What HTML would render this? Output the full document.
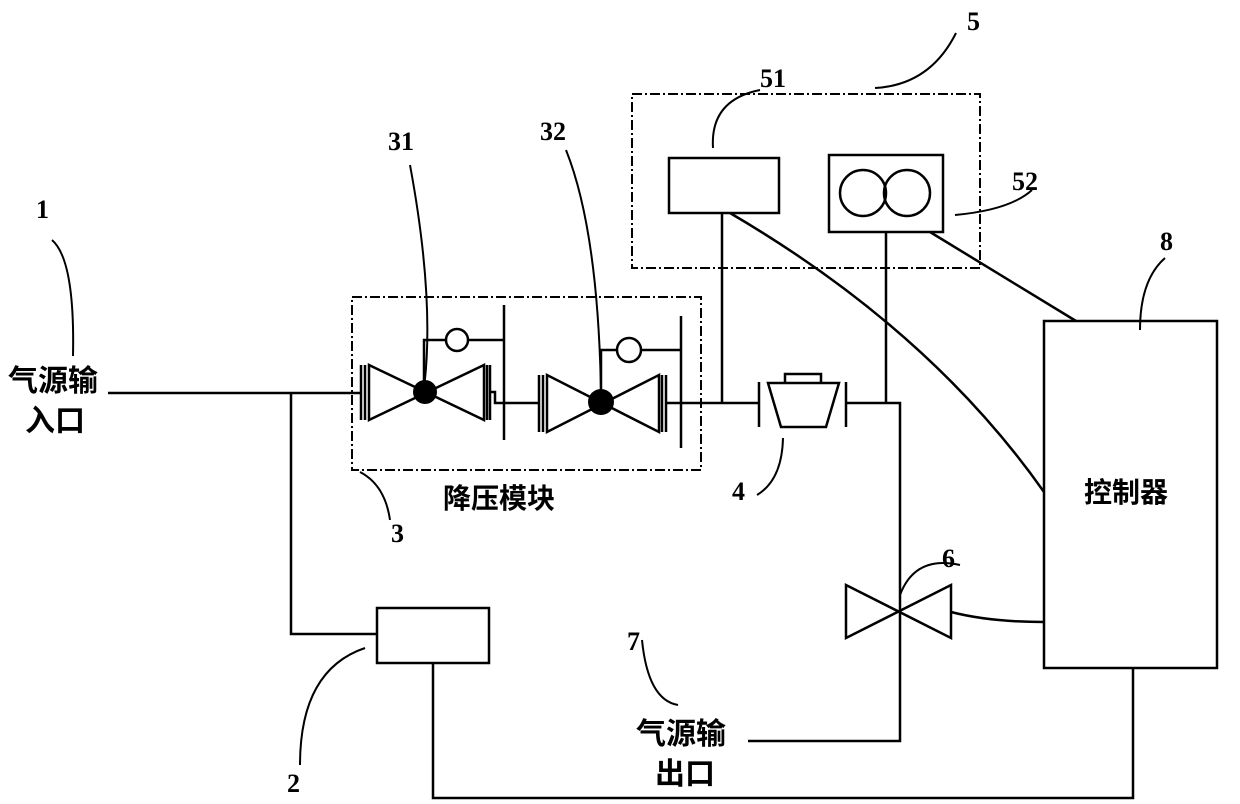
<!DOCTYPE html>
<html><head><meta charset="utf-8"><style>
body{margin:0;background:#fff}
svg{display:block}
text{font-family:"Liberation Serif","Noto Serif CJK SC",serif;font-weight:bold;fill:#000}
.c{font-family:"Liberation Sans","Noto Sans CJK SC",sans-serif;font-weight:bold}
</style></head><body>
<svg width="1240" height="804" viewBox="0 0 1240 804" xmlns="http://www.w3.org/2000/svg">
<g fill="none" stroke="#000" stroke-width="2.5">
<rect x="352" y="297" width="349" height="173" stroke-dasharray="10,3,2,3" stroke-width="2"/>
<rect x="632" y="94" width="348" height="174" stroke-dasharray="10,3,2,3" stroke-width="2"/>
<path d="M108 393 H360"/>
<path d="M291 393 V634 H377"/>
<!-- valve 1 -->
<path d="M361 365 V420 M365 365 V420"/>
<path d="M369 365 L369 420 L484 365 L484 420 Z"/>
<path d="M487 365 V420 M490 365 V420"/>
<path d="M490 392 H495 V403 H540"/>
<path d="M504 305 V440"/>
<path d="M424 392 V340 H446 M468 340 H504"/>
<circle cx="457" cy="340" r="11"/>
<!-- valve 2 -->
<path d="M539 375 V432 M543 375 V432"/>
<path d="M547 375 L547 432 L659 375 L659 432 Z"/>
<path d="M662 375 V432 M666 375 V432"/>
<path d="M681 316 V448"/>
<path d="M601 402 V350 H617 M641 350 H681"/>
<circle cx="629" cy="350" r="12"/>
<path d="M666 403 H759"/>
<!-- meter 4 -->
<path d="M759 382 V427 M846 382 V427"/>
<path d="M768 383 H839 L826 427 H781 Z"/>
<path d="M785 383 V374 H821 V383"/>
<path d="M846 403 H900 V741 H748"/>
<rect x="669" y="158" width="110" height="55"/>
<rect x="829" y="155" width="114" height="77"/>
<circle cx="863" cy="193" r="23"/>
<circle cx="907" cy="193" r="23"/>
<path d="M722 213 V403"/>
<path d="M886 232 V403"/>
<path d="M730 213 Q930 330 1044 492"/>
<path d="M930 232 L1076 321"/>
<rect x="1044" y="321" width="173" height="347"/>
<path d="M1133 668 V798 H433 V663"/>
<rect x="377" y="608" width="112" height="55"/>
<path d="M846 585 L846 638 L951 585 L951 638 Z"/>
<path d="M951 612 Q990 622 1044 622"/>
<g stroke-width="2">
<path d="M52 240 Q75 260 73 356"/>
<path d="M410 165 Q435 300 424 388"/>
<path d="M566 150 Q598 230 601 392"/>
<path d="M956 33 Q930 85 875 88"/>
<path d="M760 90 Q710 100 713 148"/>
<path d="M1032 190 Q1010 210 955 215"/>
<path d="M1165 258 Q1140 280 1140 330"/>
<path d="M390 520 Q385 485 360 472"/>
<path d="M757 495 Q782 480 783 438"/>
<path d="M960 565 Q915 555 900 595"/>
<path d="M642 640 Q648 700 678 705"/>
<path d="M300 765 Q300 670 365 648"/>
</g>
</g>
<circle cx="425" cy="392" r="12"/>
<circle cx="601" cy="402" r="13"/>
<g font-size="26">
<text x="36" y="218">1</text>
<text x="388" y="150">31</text>
<text x="540" y="140">32</text>
<text x="967" y="30">5</text>
<text x="760" y="87">51</text>
<text x="1012" y="190">52</text>
<text x="1160" y="250">8</text>
<text x="391" y="542">3</text>
<text x="732" y="500">4</text>
<text x="942" y="567">6</text>
<text x="627" y="650">7</text>
<text x="287" y="792">2</text>
</g>
<g font-size="30" class="c">
<text class="c" x="8" y="391">气源输</text>
<text class="c" x="25" y="431">入口</text>
<text class="c" x="636" y="744">气源输</text>
<text class="c" x="655" y="784">出口</text>
<text class="c" x="443" y="508" font-size="28">降压模块</text>
<text class="c" x="1084" y="502" font-size="28">控制器</text>
</g>
</svg>
</body></html>
